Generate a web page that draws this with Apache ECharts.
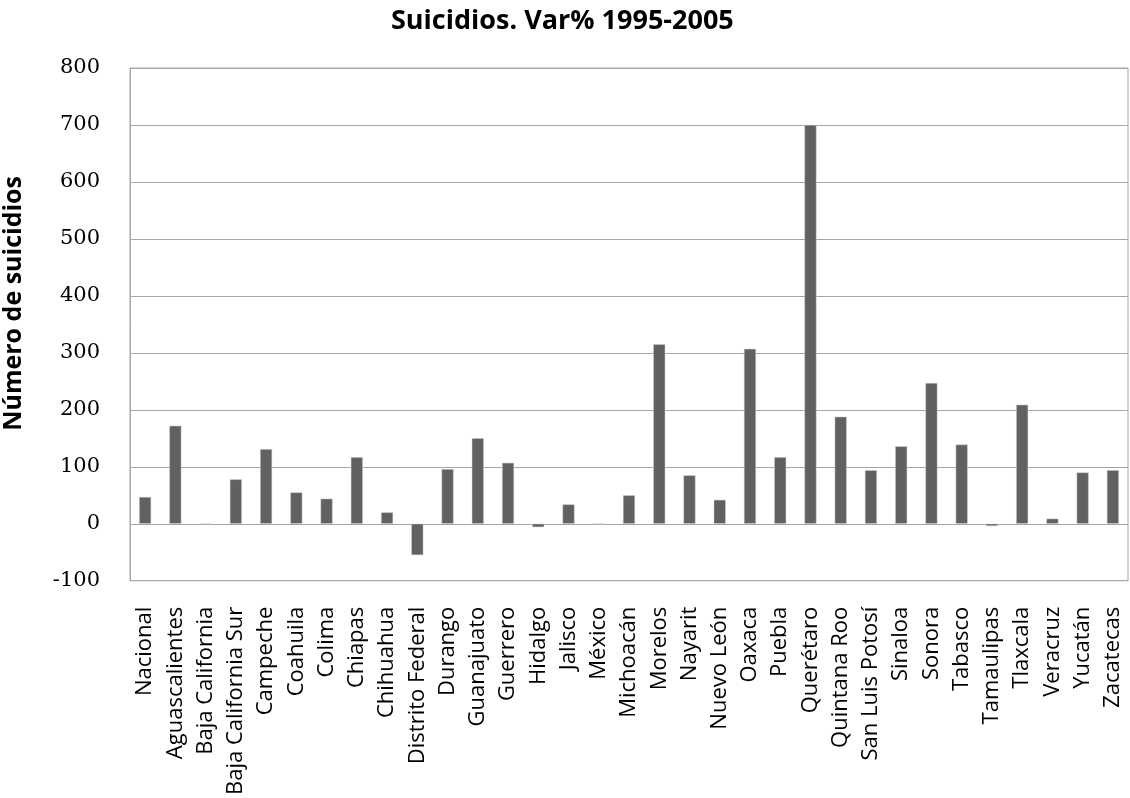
<!DOCTYPE html>
<html>
<head>
<meta charset="utf-8">
<script src="https://cdn.jsdelivr.net/npm/echarts@6/dist/echarts.min.js"></script>
<style>
  html, body { margin: 0; padding: 0; background: #ffffff; }
  #chart { width: 1130px; height: 798px; }
</style>
</head>
<body>
<div id="chart"></div>
<script>
// Variación porcentual de suicidios por entidad federativa, 1995-2005
const estados = [
  'Nacional', 'Aguascalientes', 'Baja California', 'Baja California Sur', 'Campeche',
  'Coahuila', 'Colima', 'Chiapas', 'Chihuahua', 'Distrito Federal', 'Durango',
  'Guanajuato', 'Guerrero', 'Hidalgo', 'Jalisco', 'México', 'Michoacán', 'Morelos',
  'Nayarit', 'Nuevo León', 'Oaxaca', 'Puebla', 'Querétaro', 'Quintana Roo',
  'San Luis Potosí', 'Sinaloa', 'Sonora', 'Tabasco', 'Tamaulipas', 'Tlaxcala',
  'Veracruz', 'Yucatán', 'Zacatecas'
];
const variacion = [
  47, 172, 0, 78, 131,
  55, 44, 117, 20, -55, 96,
  150, 107, -6, 34, 0, 50, 315,
  85, 42, 307, 117, 700, 188,
  94, 136, 247, 139, -4, 209,
  9, 90, 94
];
const ejeY = { min: -100, max: 800, intervalo: 100 };

const chart = echarts.init(document.getElementById('chart'), null, { renderer: 'canvas' });

chart.setOption({
  backgroundColor: '#ffffff',
  animation: false,
  title: {
    text: 'Suicidios. Var% 1995-2005',
    left: 386,
    top: 3,
    textStyle: { fontFamily: 'Open Sans', fontWeight: 'bold', fontSize: 27, color: '#000000' }
  },
  graphic: [{
    type: 'text',
    left: 1,
    top: 176,
    rotation: Math.PI / 2,
    style: {
      text: 'Número de suicidios',
      font: 'bold 25px "Open Sans"',
      fill: '#000000'
    }
  }],
  grid: {
    left: 130,
    right: 2,
    top: 68,
    bottom: 217,
    show: true,
    borderColor: '#a6a6a6',
    borderWidth: 1
  },
  xAxis: {
    type: 'category',
    data: estados,
    axisLine: { onZero: false, lineStyle: { color: '#a6a6a6' } },
    axisTick: { show: false },
    axisLabel: {
      rotate: 90,
      interval: 0,
      margin: 26,
      fontFamily: 'Open Sans',
      fontSize: 22,
      color: '#000000'
    }
  },
  yAxis: {
    type: 'value',
    min: ejeY.min,
    max: ejeY.max,
    interval: ejeY.intervalo,
    axisLine: { show: true, lineStyle: { color: '#a6a6a6' } },
    axisTick: { show: false },
    splitLine: { lineStyle: { color: '#a6a6a6', width: 1 } },
    axisLabel: {
      margin: 30,
      fontFamily: 'DejaVu Serif',
      fontSize: 21,
      color: '#000000'
    }
  },
  series: [{
    type: 'bar',
    data: variacion,
    barWidth: 12,
    itemStyle: { color: '#616161', borderColor: '#cfcfcf', borderWidth: 0.5 }
  }]
});
</script>
</body>
</html>
